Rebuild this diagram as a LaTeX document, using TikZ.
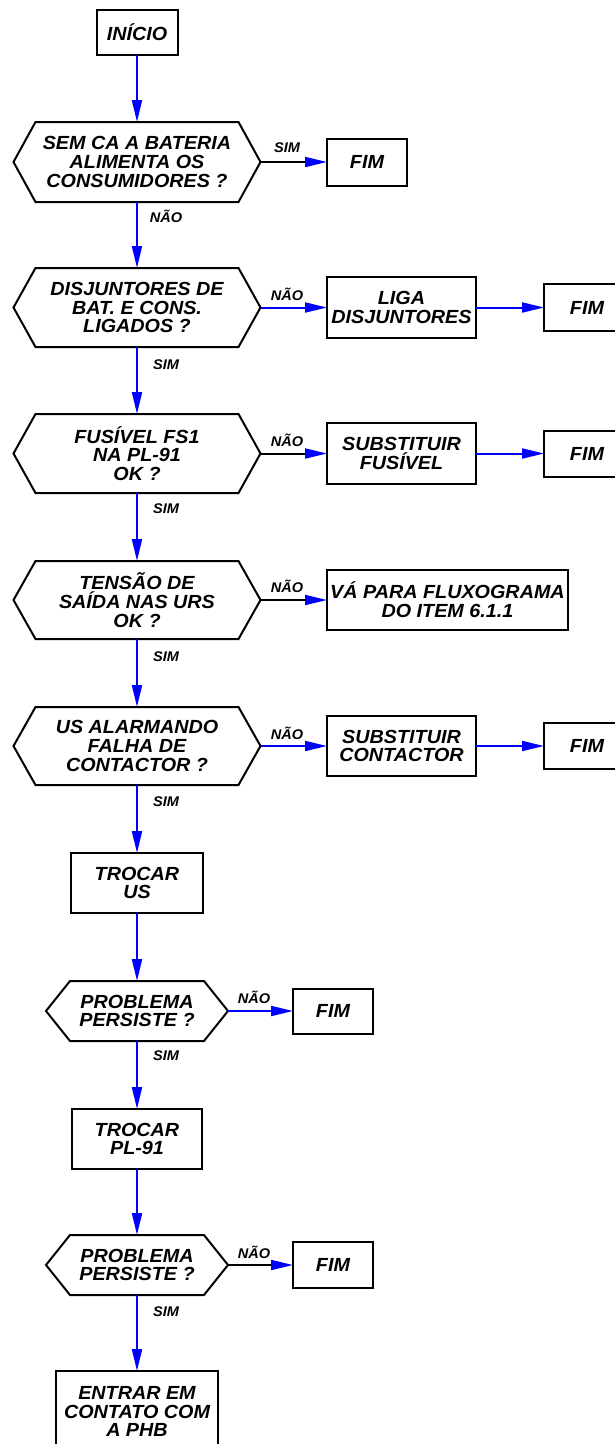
\documentclass[tikz,border=0pt]{standalone}
\usepackage{fontspec}
\setmainfont{Liberation Sans}[FakeStretch=1.04]
\usetikzlibrary{arrows.meta,calc}
\definecolor{flowblue}{RGB}{0,0,255}
\tikzset{
  x=1pt,y=-1pt,
  txt/.style={inner sep=0pt, outer sep=0pt, align=center, font=\fontsize{19}{18.8}\selectfont\bfseries\itshape},
  box/.style={txt, draw=black, line width=2pt},
  dec/.style={txt, draw=none},
  hexline/.style={draw=black, line width=2pt, line join=miter},
  flow/.style={draw=flowblue, line width=2pt, -{Triangle[length=22pt,width=10pt]}},
  blackflow/.style={draw=black, line width=2pt, -{Triangle[length=22pt,width=10pt,color=flowblue,fill=flowblue]}},
  lbl/.style={inner sep=0pt, font=\fontsize{14}{14}\selectfont\bfseries\itshape},
}
\newcommand\hexdraw[2]{\draw[hexline] ($(#1.north west)+(#2,0)$) -- ($(#1.north east)+(-#2,0)$) -- (#1.east) -- ($(#1.south east)+(-#2,0)$) -- ($(#1.south west)+(#2,0)$) -- (#1.west) -- cycle;}
\begin{document}
\begin{tikzpicture}
\useasboundingbox[fill=white] (0,0) rectangle (615,1444);
% main column
\node[box, minimum width=81pt, minimum height=45pt] (start) at (137,32.5) {INÍCIO};
\node[dec, minimum width=247pt, minimum height=80pt] (d1) at (137,162) {SEM CA A BATERIA\\ALIMENTA OS\\CONSUMIDORES ?};
\node[dec, minimum width=247pt, minimum height=79pt] (d2) at (137,307.5) {DISJUNTORES DE\\BAT. E CONS.\\LIGADOS ?};
\node[dec, minimum width=247pt, minimum height=79pt] (d3) at (137,453.5) {FUSÍVEL FS1\\NA PL-91\\OK ?};
\node[dec, minimum width=247pt, minimum height=78pt] (d4) at (137,600) {TENSÃO DE\\SAÍDA NAS URS\\OK ?};
\node[dec, minimum width=247pt, minimum height=78pt] (d5) at (137,746) {US ALARMANDO\\FALHA DE\\CONTACTOR ?};
\node[box, minimum width=132pt, minimum height=60pt] (us) at (137,883) {TROCAR\\US};
\node[dec, minimum width=182pt, minimum height=60pt] (d6) at (137,1011) {PROBLEMA\\PERSISTE ?};
\node[box, minimum width=130pt, minimum height=60pt] (pl) at (137,1139) {TROCAR\\PL-91};
\node[dec, minimum width=182pt, minimum height=60pt] (d7) at (137,1265) {PROBLEMA\\PERSISTE ?};
\node[box, minimum width=162pt, minimum height=81pt] (phb) at (137,1411.5) {ENTRAR EM\\CONTATO COM\\A PHB};
\hexdraw{d1}{22}
\hexdraw{d2}{22}
\hexdraw{d3}{22}
\hexdraw{d4}{22}
\hexdraw{d5}{22}
\hexdraw{d6}{24}
\hexdraw{d7}{24}
% right side
\node[box, minimum width=80pt, minimum height=47pt] (fim1) at (367,162) {FIM};
\node[box, minimum width=149pt, minimum height=61pt] (liga) at (401.5,307.5) {LIGA\\DISJUNTORES};
\node[box, minimum width=86pt, minimum height=47pt] (fim2) at (587,307.5) {FIM};
\node[box, minimum width=149pt, minimum height=61pt] (fus) at (401.5,453.5) {SUBSTITUIR\\FUSÍVEL};
\node[box, minimum width=86pt, minimum height=46pt] (fim3) at (587,453.5) {FIM};
\node[box, minimum width=241pt, minimum height=60pt] (va) at (447.5,600) {VÁ PARA FLUXOGRAMA\\DO ITEM 6.1.1};
\node[box, minimum width=149pt, minimum height=60pt] (cont) at (401.5,746) {SUBSTITUIR\\CONTACTOR};
\node[box, minimum width=86pt, minimum height=46pt] (fim5) at (587,746) {FIM};
\node[box, minimum width=80pt, minimum height=45pt] (fim6) at (333,1011) {FIM};
\node[box, minimum width=80pt, minimum height=46pt] (fim7) at (333,1265) {FIM};
% vertical connectors
\draw[flow] (start.south) -- (d1.north);
\draw[flow] (d1.south) -- (d2.north);
\draw[flow] (d2.south) -- (d3.north);
\draw[flow] (d3.south) -- (d4.north);
\draw[flow] (d4.south) -- (d5.north);
\draw[flow] (d5.south) -- (us.north);
\draw[flow] (us.south) -- (d6.north);
\draw[flow] (d6.south) -- (pl.north);
\draw[flow] (pl.south) -- (d7.north);
\draw[flow] (d7.south) -- (phb.north);
% horizontal connectors
\draw[blackflow] (d1.east) -- (fim1.west);
\draw[flow] (d2.east) -- (liga.west);
\draw[flow] (liga.east) -- (fim2.west);
\draw[blackflow] (d3.east) -- (fus.west);
\draw[flow] (fus.east) -- (fim3.west);
\draw[blackflow] (d4.east) -- (va.west);
\draw[flow] (d5.east) -- (cont.west);
\draw[flow] (cont.east) -- (fim5.west);
\draw[flow] (d6.east) -- (fim6.west);
\draw[blackflow] (d7.east) -- (fim7.west);
% labels
\node[lbl] (l1) at (287,148) {SIM};
\node[lbl] (l2) at (166,216) {NÃO};
\node[lbl] (l3) at (287,294) {NÃO};
\node[lbl] (l4) at (166,365) {SIM};
\node[lbl] (l5) at (287,440) {NÃO};
\node[lbl] (l6) at (166,509) {SIM};
\node[lbl] (l7) at (287,586) {NÃO};
\node[lbl] (l8) at (166,657) {SIM};
\node[lbl] (l9) at (287,733) {NÃO};
\node[lbl] (l10) at (166,802) {SIM};
\node[lbl] (l11) at (254,997) {NÃO};
\node[lbl] (l12) at (166,1056) {SIM};
\node[lbl] (l13) at (254,1252) {NÃO};
\node[lbl] (l14) at (166,1312) {SIM};
\end{tikzpicture}
\end{document}
